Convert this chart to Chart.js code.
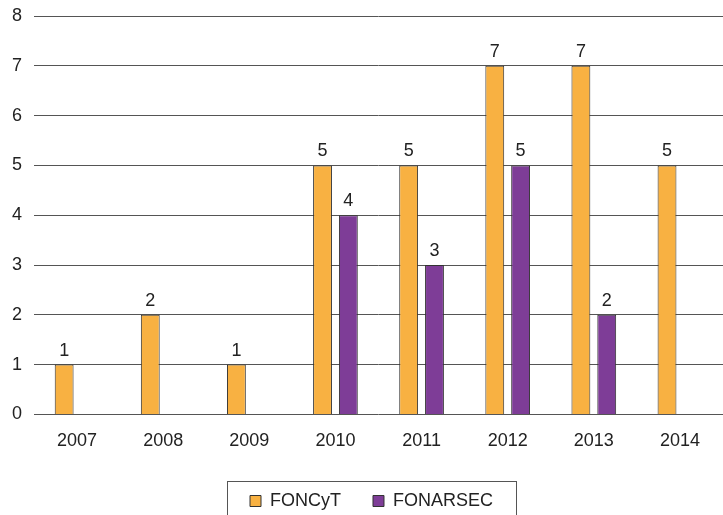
<!DOCTYPE html>
<html><head><meta charset="utf-8">
<script src="https://cdn.jsdelivr.net/npm/chart.js@4/dist/chart.umd.min.js"></script>
<style>html,body{margin:0;padding:0;background:#fff}#wrap{width:723px;height:515px}</style>
</head><body><div id="wrap"><canvas id="c" width="723" height="515"></canvas></div>
<script>
const categories = ['2007','2008','2009','2010','2011','2012','2013','2014'];
const foncyt = [1,2,1,5,5,7,7,5];
const fonarsec = [null,null,null,4,3,5,2,null];
const yTicks = [0,1,2,3,4,5,6,7,8];
const FONT = '"Liberation Sans", Arial, sans-serif';

const labelPlugin = {
  id:'labels',
  afterDatasetsDraw(chart){
    const ctx = chart.ctx;
    ctx.save();
    ctx.font = '18px ' + FONT;
    ctx.fillStyle = '#222';
    ctx.textAlign = 'center';
    ctx.textBaseline = 'alphabetic';
    chart.data.datasets.forEach((ds,i)=>{
      chart.getDatasetMeta(i).data.forEach((bar,j)=>{
        const v = ds.data[j];
        if (v==null) return;
        ctx.fillText(String(v), bar.x, bar.y - 9);
      });
    });
    ctx.restore();
  }
};
const legendBox = {
  id:'legendBox',
  afterLayout(chart){
    chart.legend.left += 10; chart.legend.right += 10;
  },
  afterDraw(chart){
    const hb = chart.legend.legendHitBoxes;
    if(!hb || !hb.length) return;
    let l = Infinity, r = -Infinity, t = Infinity;
    hb.forEach(h=>{l=Math.min(l,h.left); r=Math.max(r,h.left+h.width); t=Math.min(t,h.top);});
    const ctx = chart.ctx;
    ctx.save();
    ctx.strokeStyle = '#555';
    ctx.lineWidth = 1;
    ctx.strokeRect(Math.round(l-23)+0.5, Math.round(t-11)+0.5, Math.round(r-l+46), 60);
    ctx.restore();
  }
};

new Chart(document.getElementById('c'), {
  type:'bar',
  data:{labels:categories, datasets:[
    {label:'FONCyT', data:foncyt, backgroundColor:'#F8B142', borderColor:'#333', borderWidth:1},
    {label:'FONARSEC', data:fonarsec, backgroundColor:'#7E3D97', borderColor:'#333', borderWidth:1}
  ]},
  options:{
    responsive:false, animation:false,
    categoryPercentage:0.6, barPercentage:0.73,
    layout:{padding:{left:0,right:0,top:16,bottom:-5}},
    plugins:{
      legend:{position:'bottom', labels:{boxWidth:11, boxHeight:11, font:{size:18, family:FONT}, color:'#222', padding:32}},
      tooltip:{enabled:false}
    },
    scales:{
      x:{grid:{display:false}, border:{display:false}, ticks:{font:{size:18, family:FONT}, color:'#222', padding:8}},
      y:{min:0, max:8, afterBuildTicks(ax){ax.ticks = yTicks.map(v=>({value:v}));},
         afterFit(ax){ax.paddingTop = 0; ax.paddingBottom = 0;},
         grid:{color:'#555', drawTicks:false}, border:{display:false},
         ticks:{font:{size:18, family:FONT}, color:'#222', padding:12}}
    }
  },
  plugins:[labelPlugin, legendBox]
});
</script></body></html>
